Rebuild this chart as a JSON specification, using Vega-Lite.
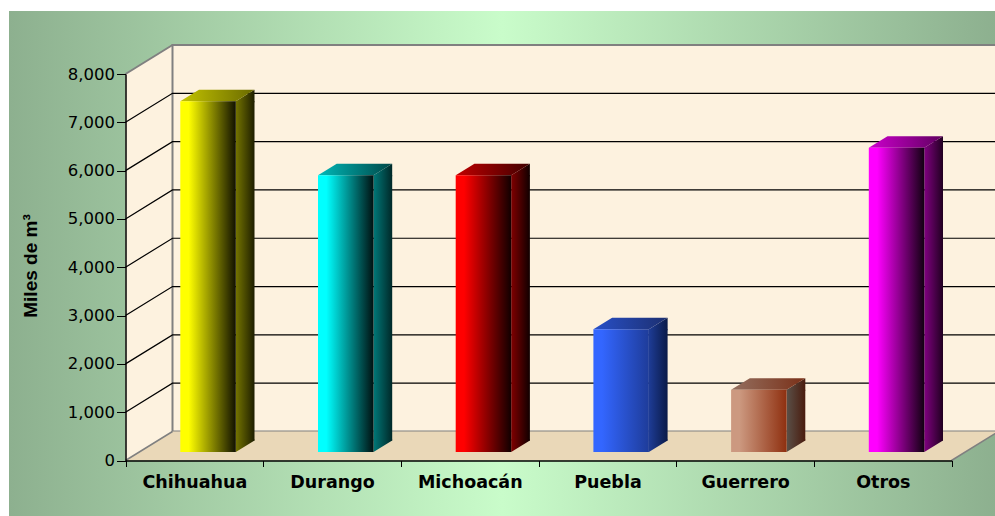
{"$schema":"https://vega.github.io/schema/vega-lite/v6.json","width":986,"height":505,"autosize":"none","padding":{"left":9,"top":11,"right":0,"bottom":0},"background":"#ffffff","view":{"stroke":null,"fill":{"gradient":"linear","x1":0,"y1":0,"x2":1,"y2":0,"stops":[{"offset":0,"color":"#8DB08F"},{"offset":0.5,"color":"#C9FCCA"},{"offset":1,"color":"#8DB08F"}]}},"data":{"values":[{"Estado":"Chihuahua","m3":7260},{"Estado":"Durango","m3":5730},{"Estado":"Michoacán","m3":5730},{"Estado":"Puebla","m3":2540},{"Estado":"Guerrero","m3":1290},{"Estado":"Otros","m3":6295}]},"encoding":{"x":{"field":"Estado","type":"nominal","sort":null,"scale":{"type":"band","domain":["Chihuahua","Durango","Michoacán","Puebla","Guerrero","Otros"],"range":[116.5,942.7],"paddingInner":0,"paddingOuter":0},"axis":{"title":null,"orient":"bottom","offset":-55.5,"zindex":1,"labelAngle":0,"labelFont":"DejaVu Sans","labelFontWeight":"bold","labelFontSize":17.5,"labelColor":"#000","labelPadding":7,"tickBand":"extent","tickSize":6,"tickColor":"#000","domainColor":"#000","domainWidth":1.5,"grid":false}},"y":{"field":"m3","type":"quantitative","scale":{"domain":[0,8000],"range":[449.5,63],"nice":false},"axis":{"title":"Miles de m³","orient":"left","offset":-116.5,"zindex":1,"values":[0,1000,2000,3000,4000,5000,6000,7000,8000],"format":",.0f","labelFont":"DejaVu Sans","labelFontSize":16.5,"labelColor":"#000","labelPadding":2,"tickSize":9,"tickColor":"#000","domainColor":"#000","domainWidth":1.5,"grid":false,"titleFont":"Liberation Sans","titleFontWeight":"bold","titleFontSize":19,"titleColor":"#000","titleX":-95.5,"titleY":254.5,"titleAngle":-90,"titleBaseline":"middle","titleAlign":"center"}}},"layer":[{"data":{"values":[{"m3":0}]},"mark":{"type":"point","shape":"M0,0 L47,-29 V-415.5 L0,-386.5 Z","size":4,"filled":true,"opacity":1,"fill":"#FDF2DF","strokeWidth":0},"encoding":{"x":{"datum":"Chihuahua","bandPosition":0},"y":{"datum":0}}},{"data":{"values":[{"m3":0}]},"mark":{"type":"point","shape":"M47,-29 H873 V-415.5 H47 Z","size":4,"filled":true,"opacity":1,"fill":"#FDF2DF","stroke":"#808080","strokeWidth":2},"encoding":{"x":{"datum":"Chihuahua","bandPosition":0},"y":{"datum":0}}},{"data":{"values":[{"m3":0}]},"mark":{"type":"point","shape":"M0,0 L47,-29 H873 L826,0 Z","size":4,"filled":true,"opacity":1,"fill":"#EAD8B8","strokeWidth":0},"encoding":{"x":{"datum":"Chihuahua","bandPosition":0},"y":{"datum":0}}},{"data":{"values":[{"m3":0}]},"mark":{"type":"point","shape":"M0,0 L47,-29 M826,0 L873,-29","size":4,"filled":false,"opacity":1,"stroke":"#808080","strokeWidth":1.5},"encoding":{"x":{"datum":"Chihuahua","bandPosition":0},"y":{"datum":0}}},{"data":{"values":[{"m3":8000}]},"mark":{"type":"point","shape":"M0,0 L47,-29","size":4,"filled":false,"opacity":1,"stroke":"#808080","strokeWidth":2},"encoding":{"x":{"datum":"Chihuahua","bandPosition":0}}},{"data":{"values":[{"m3":1000},{"m3":2000},{"m3":3000},{"m3":4000},{"m3":5000},{"m3":6000},{"m3":7000}]},"mark":{"type":"point","shape":"M0,0 L47,-29 H873","size":4,"filled":false,"opacity":1,"stroke":"#000000","strokeWidth":1.2},"encoding":{"x":{"datum":"Chihuahua","bandPosition":0}}},{"mark":{"type":"bar","width":18.7,"xOffset":50.8,"yOffset":-8.5,"y2Offset":-20},"encoding":{"y2":{"datum":0},"fill":{"condition":[{"test":"datum.Estado==='Chihuahua'","value":{"gradient":"linear","x1":0,"y1":0,"x2":1,"y2":0,"stops":[{"offset":0,"color":"#747400"},{"offset":1,"color":"#1E1E00"}]}},{"test":"datum.Estado==='Durango'","value":{"gradient":"linear","x1":0,"y1":0,"x2":1,"y2":0,"stops":[{"offset":0,"color":"#007878"},{"offset":1,"color":"#002828"}]}},{"test":"datum.Estado==='Michoacán'","value":{"gradient":"linear","x1":0,"y1":0,"x2":1,"y2":0,"stops":[{"offset":0,"color":"#800000"},{"offset":1,"color":"#100000"}]}},{"test":"datum.Estado==='Puebla'","value":{"gradient":"linear","x1":0,"y1":0,"x2":1,"y2":0,"stops":[{"offset":0,"color":"#1E3C96"},{"offset":1,"color":"#0A1A48"}]}},{"test":"datum.Estado==='Guerrero'","value":{"gradient":"linear","x1":0,"y1":0,"x2":1,"y2":0,"stops":[{"offset":0,"color":"#5A5048"},{"offset":1,"color":"#4A1C0E"}]}}],"value":{"gradient":"linear","x1":0,"y1":0,"x2":1,"y2":0,"stops":[{"offset":0,"color":"#800080"},{"offset":1,"color":"#200020"}]}}}},{"mark":{"type":"point","shape":"M41.45,-8.5 L60.15,-20 V-7.5 H41.45 Z","size":4,"filled":true,"opacity":1,"strokeWidth":0},"encoding":{"fill":{"condition":[{"test":"datum.Estado==='Chihuahua'","value":{"gradient":"linear","x1":0,"y1":0,"x2":1,"y2":0,"stops":[{"offset":0,"color":"#747400"},{"offset":1,"color":"#1E1E00"}]}},{"test":"datum.Estado==='Durango'","value":{"gradient":"linear","x1":0,"y1":0,"x2":1,"y2":0,"stops":[{"offset":0,"color":"#007878"},{"offset":1,"color":"#002828"}]}},{"test":"datum.Estado==='Michoacán'","value":{"gradient":"linear","x1":0,"y1":0,"x2":1,"y2":0,"stops":[{"offset":0,"color":"#800000"},{"offset":1,"color":"#100000"}]}},{"test":"datum.Estado==='Puebla'","value":{"gradient":"linear","x1":0,"y1":0,"x2":1,"y2":0,"stops":[{"offset":0,"color":"#1E3C96"},{"offset":1,"color":"#0A1A48"}]}},{"test":"datum.Estado==='Guerrero'","value":{"gradient":"linear","x1":0,"y1":0,"x2":1,"y2":0,"stops":[{"offset":0,"color":"#5A5048"},{"offset":1,"color":"#4A1C0E"}]}}],"value":{"gradient":"linear","x1":0,"y1":0,"x2":1,"y2":0,"stops":[{"offset":0,"color":"#800080"},{"offset":1,"color":"#200020"}]}}}},{"mark":{"type":"point","shape":"M41.45,-21 H60.15 V-20 L41.45,-8.5 Z","size":4,"filled":true,"opacity":1,"strokeWidth":0},"encoding":{"y":{"datum":0},"fill":{"condition":[{"test":"datum.Estado==='Chihuahua'","value":{"gradient":"linear","x1":0,"y1":0,"x2":1,"y2":0,"stops":[{"offset":0,"color":"#747400"},{"offset":1,"color":"#1E1E00"}]}},{"test":"datum.Estado==='Durango'","value":{"gradient":"linear","x1":0,"y1":0,"x2":1,"y2":0,"stops":[{"offset":0,"color":"#007878"},{"offset":1,"color":"#002828"}]}},{"test":"datum.Estado==='Michoacán'","value":{"gradient":"linear","x1":0,"y1":0,"x2":1,"y2":0,"stops":[{"offset":0,"color":"#800000"},{"offset":1,"color":"#100000"}]}},{"test":"datum.Estado==='Puebla'","value":{"gradient":"linear","x1":0,"y1":0,"x2":1,"y2":0,"stops":[{"offset":0,"color":"#1E3C96"},{"offset":1,"color":"#0A1A48"}]}},{"test":"datum.Estado==='Guerrero'","value":{"gradient":"linear","x1":0,"y1":0,"x2":1,"y2":0,"stops":[{"offset":0,"color":"#5A5048"},{"offset":1,"color":"#4A1C0E"}]}}],"value":{"gradient":"linear","x1":0,"y1":0,"x2":1,"y2":0,"stops":[{"offset":0,"color":"#800080"},{"offset":1,"color":"#200020"}]}}}},{"mark":{"type":"point","shape":"M-14.05,-8.5 H41.45 L60.15,-20 H4.65 Z","size":4,"filled":true,"opacity":1,"strokeWidth":0},"encoding":{"fill":{"condition":[{"test":"datum.Estado==='Chihuahua'","value":{"gradient":"linear","x1":0,"y1":0,"x2":1,"y2":0,"stops":[{"offset":0,"color":"#C4C400"},{"offset":1,"color":"#6A6A00"}]}},{"test":"datum.Estado==='Durango'","value":{"gradient":"linear","x1":0,"y1":0,"x2":1,"y2":0,"stops":[{"offset":0,"color":"#00B8B8"},{"offset":1,"color":"#004848"}]}},{"test":"datum.Estado==='Michoacán'","value":{"gradient":"linear","x1":0,"y1":0,"x2":1,"y2":0,"stops":[{"offset":0,"color":"#C00000"},{"offset":1,"color":"#400000"}]}},{"test":"datum.Estado==='Puebla'","value":{"gradient":"linear","x1":0,"y1":0,"x2":1,"y2":0,"stops":[{"offset":0,"color":"#2850C8"},{"offset":1,"color":"#1C2F70"}]}},{"test":"datum.Estado==='Guerrero'","value":{"gradient":"linear","x1":0,"y1":0,"x2":1,"y2":0,"stops":[{"offset":0,"color":"#947060"},{"offset":1,"color":"#7A3018"}]}}],"value":{"gradient":"linear","x1":0,"y1":0,"x2":1,"y2":0,"stops":[{"offset":0,"color":"#CC00CC"},{"offset":1,"color":"#600060"}]}}}},{"mark":{"type":"bar","width":55.5,"xOffset":13.7,"yOffset":-8.5,"y2Offset":-8.5},"encoding":{"y2":{"datum":0},"fill":{"condition":[{"test":"datum.Estado==='Chihuahua'","value":{"gradient":"linear","x1":0,"y1":0,"x2":1,"y2":0,"stops":[{"offset":0,"color":"#FFFF00"},{"offset":0.15,"color":"#FFFF00"},{"offset":1,"color":"#111100"}]}},{"test":"datum.Estado==='Durango'","value":{"gradient":"linear","x1":0,"y1":0,"x2":1,"y2":0,"stops":[{"offset":0,"color":"#00FFFF"},{"offset":0.15,"color":"#00FFFF"},{"offset":1,"color":"#001111"}]}},{"test":"datum.Estado==='Michoacán'","value":{"gradient":"linear","x1":0,"y1":0,"x2":1,"y2":0,"stops":[{"offset":0,"color":"#FF0000"},{"offset":0.15,"color":"#FF0000"},{"offset":1,"color":"#110000"}]}},{"test":"datum.Estado==='Puebla'","value":{"gradient":"linear","x1":0,"y1":0,"x2":1,"y2":0,"stops":[{"offset":0,"color":"#3366FF"},{"offset":0.15,"color":"#3366FF"},{"offset":1,"color":"#1E3C9A"}]}},{"test":"datum.Estado==='Guerrero'","value":{"gradient":"linear","x1":0,"y1":0,"x2":1,"y2":0,"stops":[{"offset":0,"color":"#CC9980"},{"offset":0.15,"color":"#CC9980"},{"offset":1,"color":"#8F3010"}]}}],"value":{"gradient":"linear","x1":0,"y1":0,"x2":1,"y2":0,"stops":[{"offset":0,"color":"#FF00FF"},{"offset":0.15,"color":"#FF00FF"},{"offset":1,"color":"#110011"}]}}}}]}
